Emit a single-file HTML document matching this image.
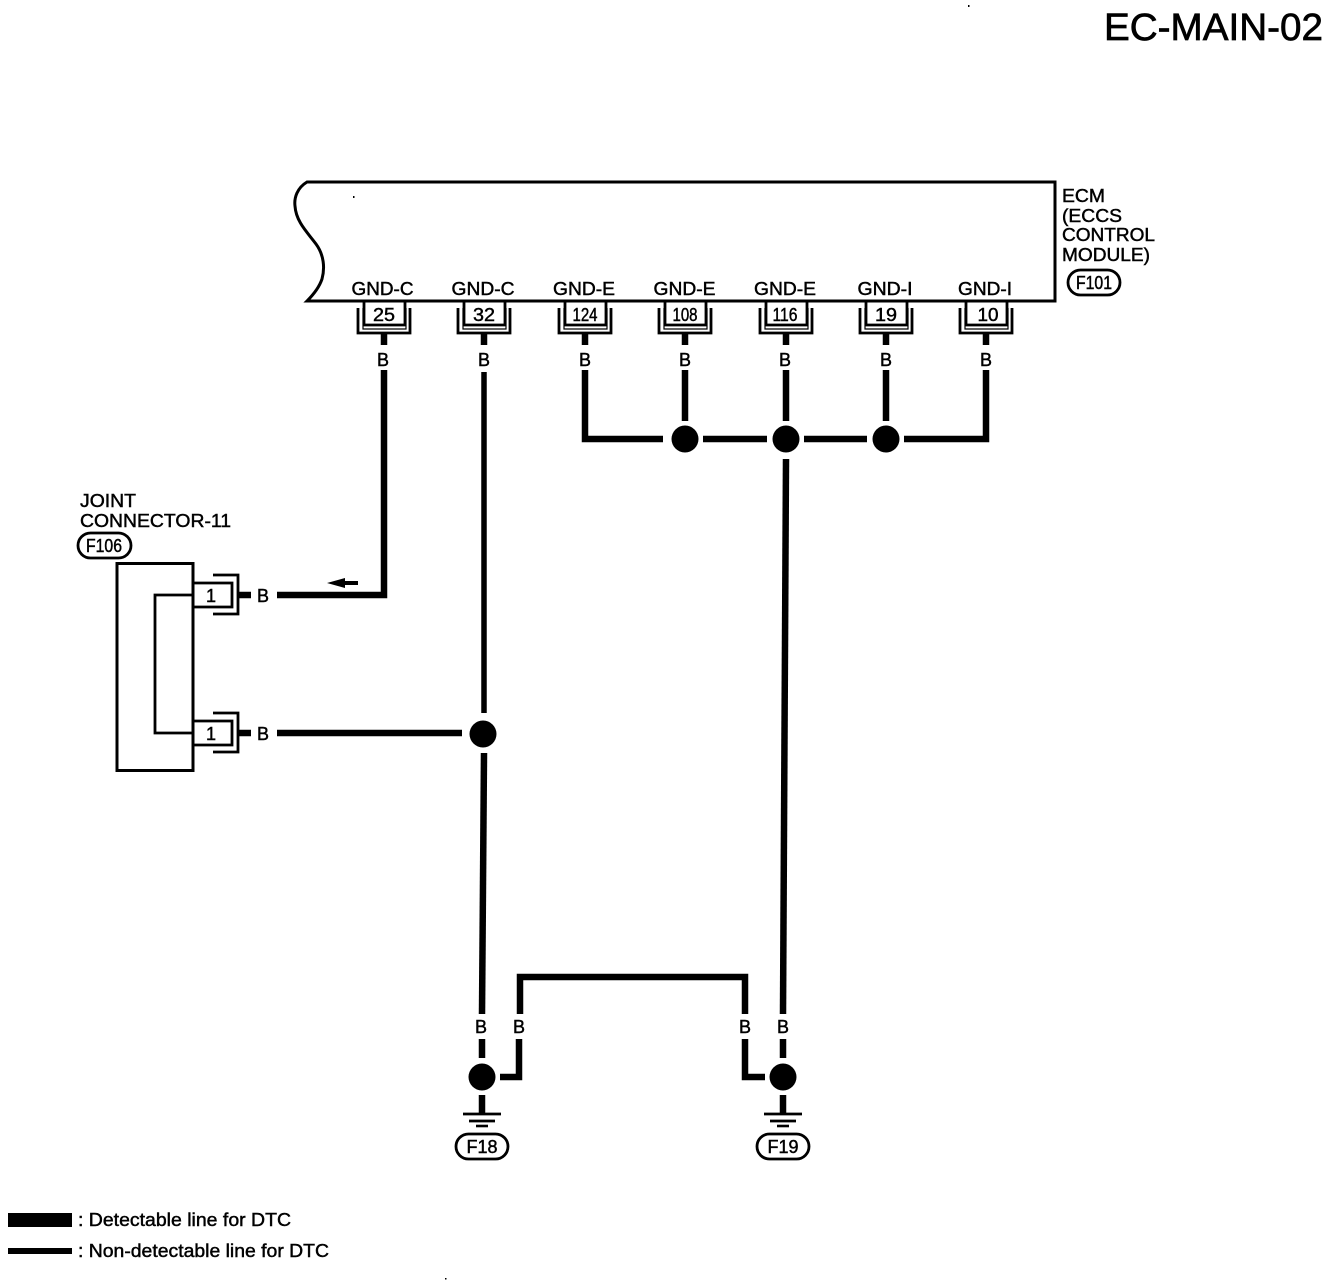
<!DOCTYPE html>
<html>
<head>
<meta charset="utf-8">
<style>
html,body{margin:0;padding:0;background:#fff;width:1344px;height:1286px;overflow:hidden}
svg{display:block}
text{font-family:"Liberation Sans",sans-serif;fill:#000;stroke:#000;stroke-width:.45}
.l{font-size:18px}
.c{font-size:18px;text-anchor:middle}
.w{fill:none;stroke:#000;stroke-width:6.500}
.t{fill:none;stroke:#000;stroke-width:2.8}
</style>
</head>
<body>
<svg width="1344" height="1286" viewBox="0 0 1344 1286" xmlns="http://www.w3.org/2000/svg">
<defs>
<g id="pin" class="t">
<path d="M-26 308V333H26V308"/>
<path d="M-20 301V325H21V301"/>
<path d="M-21 308V329H22V308" stroke-width="1.2"/>
</g>
<g id="pinL" class="t">
<path d="M0 -12H39V12H0"/>
<path d="M20 -20H45V19H20"/>
<path d="M45 -3V3" stroke-width="1"/>
</g>
<g id="gnd">
<path class="w" d="M0 1095V1113" stroke-width="5"/>
<path d="M-19 1114H19" stroke="#000" stroke-width="2.8"/>
<path d="M-13 1121H13" stroke="#000" stroke-width="2.8"/>
<path d="M-6 1126H6" stroke="#000" stroke-width="2.6"/>
</g>
</defs>
<rect width="1344" height="1286" fill="#fff"/>

<text x="1104" y="40" font-size="38" textLength="219" lengthAdjust="spacingAndGlyphs" style="stroke-width:.7">EC-MAIN-02</text>

<!-- ECM body -->
<path d="M307 182C297 188 294 198 295 206C296 222 308 233 316 244C324 255 325 268 322 279C319 288 313 295 307 301H1055V182Z" fill="none" stroke="#000" stroke-width="3"/>

<text class="c" x="382.500" y="295" textLength="62" lengthAdjust="spacingAndGlyphs">GND-C</text>
<text class="c" x="483" y="295" textLength="63" lengthAdjust="spacingAndGlyphs">GND-C</text>
<text class="c" x="584" y="295" textLength="62" lengthAdjust="spacingAndGlyphs">GND-E</text>
<text class="c" x="684.500" y="295" textLength="62" lengthAdjust="spacingAndGlyphs">GND-E</text>
<text class="c" x="785" y="295" textLength="62" lengthAdjust="spacingAndGlyphs">GND-E</text>
<text class="c" x="885" y="295" textLength="55" lengthAdjust="spacingAndGlyphs">GND-I</text>
<text class="c" x="985" y="295" textLength="54" lengthAdjust="spacingAndGlyphs">GND-I</text>

<text class="l" x="1062" y="202" textLength="43" lengthAdjust="spacingAndGlyphs">ECM</text>
<text class="l" x="1062" y="222" textLength="60" lengthAdjust="spacingAndGlyphs">(ECCS</text>
<text class="l" x="1062" y="241" textLength="93" lengthAdjust="spacingAndGlyphs">CONTROL</text>
<text class="l" x="1062" y="261" textLength="88" lengthAdjust="spacingAndGlyphs">MODULE)</text>
<rect x="1068" y="270" width="52" height="25" rx="12.500" class="t"/>
<text class="c" x="1094" y="289" textLength="36" lengthAdjust="spacingAndGlyphs">F101</text>

<!-- ECM pins -->
<use href="#pin" x="384"/><use href="#pin" x="484"/><use href="#pin" x="585"/><use href="#pin" x="685"/><use href="#pin" x="786"/><use href="#pin" x="886"/><use href="#pin" x="986"/>
<text class="c" x="384" y="321" textLength="22" lengthAdjust="spacingAndGlyphs">25</text>
<text class="c" x="484" y="321" textLength="22" lengthAdjust="spacingAndGlyphs">32</text>
<text class="c" x="585" y="321" textLength="25" lengthAdjust="spacingAndGlyphs">124</text>
<text class="c" x="685" y="321" textLength="25" lengthAdjust="spacingAndGlyphs">108</text>
<text class="c" x="785" y="321" textLength="25" lengthAdjust="spacingAndGlyphs">116</text>
<text class="c" x="886" y="321" textLength="22" lengthAdjust="spacingAndGlyphs">19</text>
<text class="c" x="988" y="321" textLength="21" lengthAdjust="spacingAndGlyphs">10</text>

<!-- stubs -->
<g class="w">
<path d="M384 333V345M484 333V345M585 333V345M685 333V345M786 333V345M886 333V345M986 333V345"/>
</g>
<text class="c" x="383" y="366" font-size="17">B</text>
<text class="c" x="484" y="366" font-size="17">B</text>
<text class="c" x="585" y="366" font-size="17">B</text>
<text class="c" x="685" y="366" font-size="17">B</text>
<text class="c" x="785" y="366" font-size="17">B</text>
<text class="c" x="886" y="366" font-size="17">B</text>
<text class="c" x="986" y="366" font-size="17">B</text>

<!-- bus -->
<g class="w">
<path d="M384 370V595H277"/>
<path d="M484 372V713" stroke-width="5.500"/>
<path d="M585 370V439H663"/>
<path d="M685 370V421"/>
<path d="M703 439H767"/>
<path d="M786 370V421"/>
<path d="M804 439H867"/>
<path d="M886 370V421"/>
<path d="M904 439H986V370"/>
<path d="M786 459L783 1014"/>
<path d="M484 753L482 1014"/>
<path d="M277 733H462"/>
</g>
<circle cx="685" cy="439" r="13.500"/>
<circle cx="786" cy="439" r="13.500"/>
<circle cx="886" cy="439" r="13.500"/>
<circle cx="483" cy="734" r="13.500"/>

<!-- joint connector -->
<text class="l" x="80" y="507" textLength="56" lengthAdjust="spacingAndGlyphs">JOINT</text>
<text class="l" x="80" y="527" textLength="151" lengthAdjust="spacingAndGlyphs">CONNECTOR-11</text>
<rect x="78" y="533" width="53" height="25" rx="12.500" class="t"/>
<text class="c" x="104" y="552" textLength="36" lengthAdjust="spacingAndGlyphs">F106</text>
<rect x="117" y="563.500" width="76" height="207" fill="none" stroke="#000" stroke-width="3"/>
<path d="M193 595H155V733H193" fill="none" stroke="#000" stroke-width="2.800"/>
<use href="#pinL" x="193" y="595"/>
<use href="#pinL" x="193" y="733"/>
<text class="c" x="211" y="602" font-size="17">1</text>
<text class="c" x="211" y="740" font-size="17">1</text>
<path class="w" d="M238 595H251M238 733H251"/>
<text class="c" x="263" y="602" font-size="17">B</text>
<text class="c" x="263" y="740" font-size="17">B</text>
<path d="M327 583L345 578V581H358V585H345V588Z"/>

<!-- lower -->
<path class="w" d="M520 1014V977H745V1014"/>
<text class="c" x="481" y="1033" font-size="17">B</text>
<text class="c" x="519" y="1033" font-size="17">B</text>
<text class="c" x="745" y="1033" font-size="17">B</text>
<text class="c" x="783" y="1033" font-size="17">B</text>
<path class="w" d="M482 1039V1058M783 1039V1058"/>
<path class="w" d="M519 1039V1077H500"/>
<path class="w" d="M745 1039V1077H765"/>
<circle cx="482" cy="1077" r="13.500"/>
<circle cx="783" cy="1077" r="13.500"/>
<use href="#gnd" x="482"/>
<use href="#gnd" x="783"/>
<rect x="456" y="1134" width="52" height="25" rx="12.500" class="t"/>
<text class="c" x="482" y="1153" textLength="31" lengthAdjust="spacingAndGlyphs">F18</text>
<rect x="757" y="1134" width="52" height="25" rx="12.500" class="t"/>
<text class="c" x="783" y="1153" textLength="31" lengthAdjust="spacingAndGlyphs">F19</text>

<!-- legend -->
<rect x="8" y="1213" width="64" height="14"/>
<rect x="8" y="1248" width="64" height="6"/>
<text class="l" x="78" y="1226" textLength="213" lengthAdjust="spacingAndGlyphs">: Detectable line for DTC</text>
<text class="l" x="78" y="1257" textLength="251" lengthAdjust="spacingAndGlyphs">: Non-detectable line for DTC</text>

<!-- specks -->
<rect x="968" y="5" width="1.500" height="2"/>
<rect x="353" y="196" width="1.500" height="2"/>
<rect x="445" y="1278" width="1.500" height="1.500"/>
</svg>
</body>
</html>
